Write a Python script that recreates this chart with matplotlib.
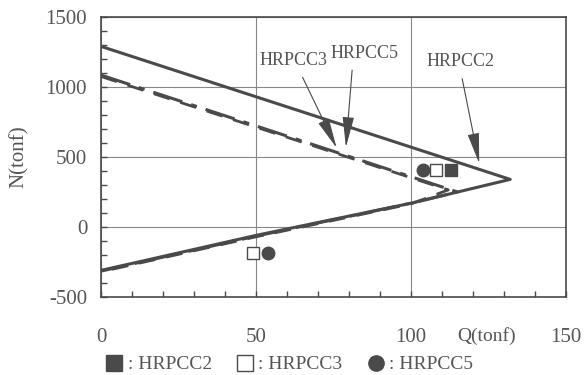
import matplotlib
matplotlib.use("Agg")
import matplotlib.pyplot as plt
from matplotlib.ticker import MultipleLocator
from matplotlib.lines import Line2D

# 相互作用曲線 (Q, N) の読み取り値
hrpcc2_Q = [0, 132, 100, 50, 0]
hrpcc2_N = [1290, 340, 170, -60, -310]
hrpcc3_Q = [0, 115, 100, 50, 0]
hrpcc3_N = [1085, 250, 170, -65, -315]
hrpcc5_Q = [0, 112, 100, 50, 0]
hrpcc5_N = [1075, 265, 165, -70, -320]

# 実験値
exp2_Q, exp2_N = [113], [407]
exp3_Q, exp3_N = [108, 49], [407, -186]
exp5_Q, exp5_N = [104, 54], [407, -186]

labels = ["HRPCC2", "HRPCC3", "HRPCC5"]
xticks = [0, 50, 100, 150]
yticks = [-500, 0, 500, 1000, 1500]

col = "#4a4a4a"
txt = "#555555"
font = "Liberation Serif"
plt.rcParams["axes.unicode_minus"] = False

fig = plt.figure(figsize=(5.86, 3.75), dpi=100)
ax = fig.add_axes([0.1724, 0.208, 0.7935, 0.7467])

ax.plot(hrpcc2_Q, hrpcc2_N, color=col, lw=2.2, solid_capstyle="round")
ax.plot(hrpcc3_Q, hrpcc3_N, color=col, lw=2.2, linestyle=(0, (10, 3, 2, 3)))
ax.plot(hrpcc5_Q, hrpcc5_N, color=col, lw=2.0, linestyle=(0, (6, 4)))

ax.plot(exp2_Q, exp2_N, "s", ms=9, mfc=col, mec=col, clip_on=False)
ax.plot(exp3_Q, exp3_N, "s", ms=9, mfc="white", mec=col, mew=1.0, clip_on=False)
ax.plot(exp5_Q, exp5_N, "o", ms=9, mfc=col, mec=col, clip_on=False)

arrow = dict(arrowstyle="-|>,head_length=1.9,head_width=0.36", color=col, lw=0.8,
             shrinkA=0, shrinkB=0)
ax.annotate("", xy=(76, 565), xytext=(65, 1070), arrowprops=arrow)
ax.annotate("", xy=(79, 570), xytext=(81, 1120), arrowprops=arrow)
ax.annotate("", xy=(122, 455), xytext=(116.5, 1060), arrowprops=arrow)
ax.text(62, 1190, labels[1], ha="center", va="center", fontsize=13, family=font, color=txt)
ax.text(85, 1240, labels[2], ha="center", va="center", fontsize=13, family=font, color=txt)
ax.text(116, 1180, labels[0], ha="center", va="center", fontsize=13, family=font, color=txt)

ax.set_xlim(0, 150)
ax.set_ylim(-500, 1500)
ax.set_xticks(xticks)
ax.set_yticks(yticks)
ax.xaxis.set_minor_locator(MultipleLocator(10))
ax.yaxis.set_minor_locator(MultipleLocator(100))
ax.grid(True, which="major", color="#888888", lw=0.8)
ax.tick_params(which="both", direction="in", colors=col, labelcolor=txt,
               labelsize=15, length=4, width=1.0)
ax.tick_params(axis="x", pad=22)
ax.tick_params(axis="y", pad=10)
for t in ax.get_xticklabels() + ax.get_yticklabels():
    t.set_family(font)
for s in ax.spines.values():
    s.set_color(col)
    s.set_linewidth(1.2)

ax.set_ylabel("N(tonf)", fontsize=15, family=font, color=txt, labelpad=12)
fig.text(0.83, 0.105, "Q(tonf)", ha="center", va="center", fontsize=14,
         family=font, color=txt)

handles = [
    Line2D([], [], ls="none", marker="s", ms=11, mfc=col, mec=col),
    Line2D([], [], ls="none", marker="s", ms=11, mfc="white", mec=col),
    Line2D([], [], ls="none", marker="o", ms=11, mfc=col, mec=col),
]
fig.legend(handles, [": " + l for l in labels], loc="center left",
           bbox_to_anchor=(0.148, 0.028), ncol=3, frameon=False,
           handletextpad=0.2, columnspacing=1.2, handlelength=1.0,
           prop={"family": font, "size": 14}, labelcolor=txt)

fig.savefig("out.png", dpi=100)
